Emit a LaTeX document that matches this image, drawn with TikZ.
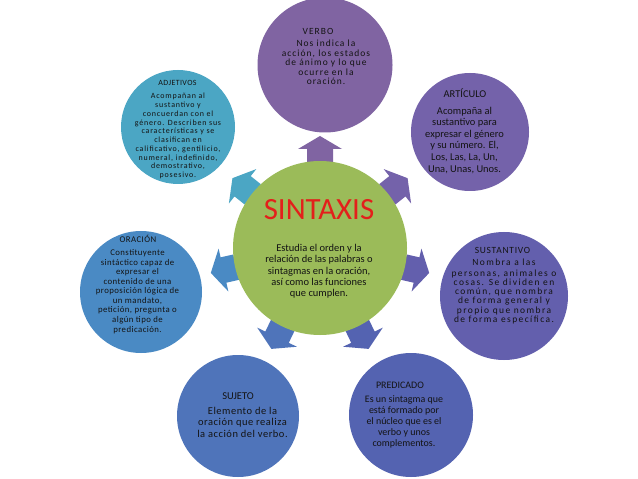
\documentclass[tikz,border=0pt]{standalone}
\usepackage{fontspec}
\setmainfont{Carlito}
\definecolor{cGreen}{HTML}{9BBB59}
\definecolor{cRed}{HTML}{E3201B}
\definecolor{cVerbo}{HTML}{8064A2}
\definecolor{cArt}{HTML}{7462AA}
\definecolor{cSus}{HTML}{635FAD}
\definecolor{cPred}{HTML}{5463B1}
\definecolor{cSuj}{HTML}{4F74BA}
\definecolor{cOra}{HTML}{4A8AC4}
\definecolor{cAdj}{HTML}{4BA6C4}
\definecolor{cText}{HTML}{141414}
\newcommand\txtfont[3]{\fontsize{#1}{#2}\selectfont\addfontfeatures{LetterSpace=#3}}
\begin{document}
\begin{tikzpicture}[x=1bp,y=-1bp,
  bubble/.style={circle, inner sep=0pt, draw=none},
  ttl/.style={anchor=base, inner sep=0pt, text=cText},
  body/.style={anchor=north, inner sep=0pt, align=center, text=cText}]
\useasboundingbox (0,0) rectangle (638,479);
\fill[white] (0,0) rectangle (638,479);
\clip (0,0) rectangle (638,479);
% block arrows pointing outwards
\foreach \k/\c in {0/cVerbo,1/cArt,2/cSus,3/cPred,4/cSuj,5/cOra,6/cAdj}{
  \begin{scope}[shift={(320,248)}, rotate={-\k*360/7}]
    \fill[\c] (0,-112) -- (22,-99) -- (13,-99) -- (13,-86) -- (-13,-86) -- (-13,-99) -- (-22,-99) -- cycle;
  \end{scope}}
% circles
\node[bubble, fill=cGreen, minimum size=174bp] (center) at (320,248) {};
\node[bubble, fill=cVerbo, minimum size=135bp] (verbo) at (325,65) {};
\node[bubble, fill=cArt, minimum size=118bp] (art) at (470,132) {};
\node[bubble, fill=cSus, minimum size=128bp] (sus) at (504,296) {};
\node[bubble, fill=cPred, minimum size=124bp] (pred) at (411,415) {};
\node[bubble, fill=cSuj, minimum size=122bp] (suj) at (238,416) {};
\node[bubble, fill=cOra, minimum size=122bp] (ora) at (141,292) {};
\node[bubble, fill=cAdj, minimum size=114bp] (adj) at (178,127) {};
% center text
\node[anchor=base, inner sep=0pt, text=cRed, font=\txtfont{31}{31}{0}] (tCenter) at (319,219.9) {SINTAXIS};
\node[body, font=\txtfont{10.5}{11.3}{0}] (bCenter) at (319,243.5) {\strut Estudia el orden y la\\ relación de las palabras o\\ sintagmas en la oración,\\ así como las funciones\\ que cumplen.};
% VERBO
\node[ttl, font=\txtfont{9.5}{9.5}{11}] (tVerbo) at (318,34.7) {VERBO};
\node[body, font=\txtfont{9.5}{9.5}{11}] (bVerbo) at (326,39.85) {\strut Nos indica la\\ acción, los estados\\ de ánimo y lo que\\ ocurre en la\\ oración.};
% ARTICULO
\node[ttl, font=\txtfont{10.5}{11.6}{0}] (tArt) at (465,97.7) {ARTÍCULO};
\node[body, font=\txtfont{10.5}{11.6}{0}] (bArt) at (464.5,106.0) {\strut Acompaña al\\ sustantivo para\\ expresar el género\\ y su número. El,\\ Los, Las, La, Un,\\ Una, Unas, Unos.};
% SUSTANTIVO
\node[ttl, font=\txtfont{9.5}{9.3}{8}] (tSus) at (502.5,253.7) {SUSTANTIVO};
\node[body, font=\txtfont{9.5}{9.3}{15}] (bSus) at (504,259.0) {\strut Nombra a las\\ personas, animales o\\ cosas. Se dividen en\\ común, que nombra\\ de forma general y\\ propio que nombra\\ de forma específica.};
% PREDICADO
\node[ttl, font=\txtfont{10}{11}{0}] (tPred) at (400,388.2) {PREDICADO};
\node[body, font=\txtfont{10}{11}{0}] (bPred) at (404,394.6) {\strut Es un sintagma que\\ está formado por\\ el núcleo que es el\\ verbo y unos\\ complementos.};
% SUJETO
\node[ttl, font=\txtfont{10.5}{11.65}{0}] (tSuj) at (238,399.4) {SUJETO};
\node[body, font=\txtfont{10.5}{11.65}{5}] (bSuj) at (242.5,406.0) {\strut Elemento de la\\ oración que realiza\\ la acción del verbo.};
% ORACION
\node[ttl, font=\txtfont{8.8}{9.6}{5}] (tOra) at (138,242.1) {ORACIÓN};
\node[body, font=\txtfont{8.8}{9.6}{5}] (bOra) at (137.5,248.6) {\strut Constituyente\\ sintáctico capaz de\\ expresar el\\ contenido de una\\ proposición lógica de\\ un mandato,\\ petición, pregunta o\\ algún tipo de\\ predicación.};
% ADJETIVOS
\node[ttl, font=\txtfont{8}{8.8}{5}] (tAdj) at (177.5,85.9) {ADJETIVOS};
\node[body, font=\txtfont{8}{8.8}{10}] (bAdj) at (178,92.4) {\strut Acompañan al\\ sustantivo y\\ concuerdan con el\\ género. Describen sus\\ características y se\\ clasifican en\\ calificativo, gentilicio,\\ numeral, indefinido,\\ demostrativo,\\ posesivo.};
\end{tikzpicture}
\end{document}
